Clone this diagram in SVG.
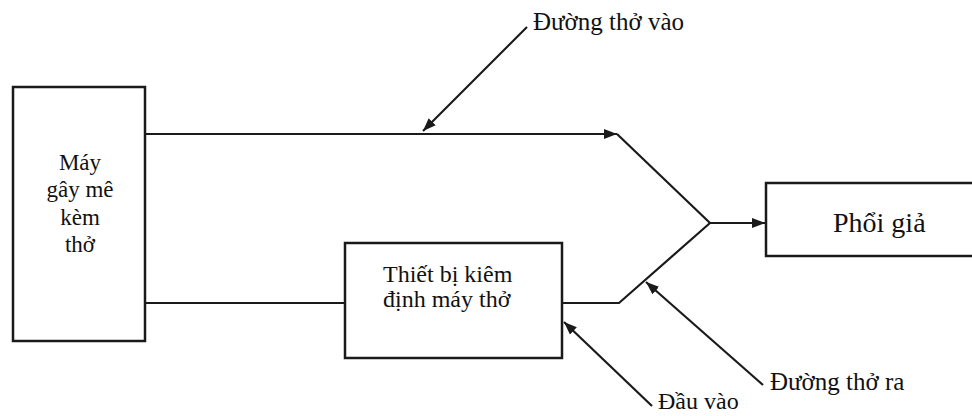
<svg xmlns="http://www.w3.org/2000/svg" width="972" height="416" viewBox="0 0 972 416">
<style>
.box{fill:#fff;stroke:#1a1a1a;stroke-width:2.5}
.ln{fill:none;stroke:#1a1a1a;stroke-width:2.2}
text{font-family:"Liberation Serif","Times New Roman",serif;fill:#111}
</style>
<defs>
<marker id="ah" viewBox="0 0 13 10" refX="13" refY="5" markerWidth="13" markerHeight="10" markerUnits="userSpaceOnUse" orient="auto">
<path d="M0,0 L13,5 L0,10 Z" fill="#1a1a1a"/>
</marker>
</defs>
<g id="connectors">
<path class="ln" d="M145,134 H617" marker-end="url(#ah)"/>
<path class="ln" d="M617,134 L710,223"/>
<path class="ln" d="M144,303 H345"/>
<path class="ln" d="M562,303 H619 L710,223"/>
<path class="ln" d="M710,223 H765" marker-end="url(#ah)"/>
<path class="ln" d="M527,27 L423,131" marker-end="url(#ah)"/>
<path class="ln" d="M763,385 L646,282" marker-end="url(#ah)"/>
<path class="ln" d="M652,406 L564,322" marker-end="url(#ah)"/>
</g>
<g id="may-gay-me">
<rect class="box" x="13" y="87" width="132" height="254"/>
<text x="80" y="170" font-size="23" text-anchor="middle">Máy</text>
<text x="80" y="197" font-size="23" text-anchor="middle">gây mê</text>
<text x="80" y="225" font-size="23" text-anchor="middle">kèm</text>
<text x="80" y="252" font-size="23" text-anchor="middle">thở</text>
</g>
<g id="thiet-bi">
<rect class="box" x="345" y="243" width="217" height="115"/>
<text x="383" y="282" font-size="24">Thiết bị kiêm</text>
<text x="383" y="307" font-size="24">định máy thở</text>
</g>
<g id="phoi-gia">
<rect class="box" x="766" y="183" width="212" height="73"/>
<text x="833" y="232" font-size="28">Phổi giả</text>
</g>
<g id="labels">
<text x="533" y="30" font-size="25">Đường thở vào</text>
<text x="770" y="390" font-size="25">Đường thở ra</text>
<text x="658" y="409" font-size="24">Đầu vào</text>
</g>
</svg>
